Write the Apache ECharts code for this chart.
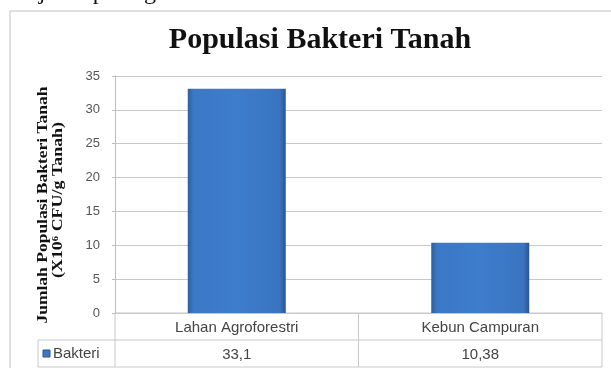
<!DOCTYPE html>
<html><head><meta charset="utf-8">
<script src="https://cdn.jsdelivr.net/npm/echarts@6/dist/echarts.min.js"></script>
<style>html,body{margin:0;padding:0;background:#fff}#c{width:611px;height:368px}</style>
</head><body><div id="c"></div>
<script>
const categories = ['Lahan Agroforestri', 'Kebun Campuran'];
const values = [33.1, 10.38];
const valueLabels = ['33,1', '10,38'];
const seriesName = 'Bakteri';
const yTicks = [0, 5, 10, 15, 20, 25, 30, 35];

const chart = echarts.init(document.getElementById('c'), null, {renderer: 'canvas'});
const G = {l: 115, r: 602, t: 76, b: 313};
function ln(x1, y1, x2, y2, c) {
  return {type: 'line', shape: {x1, y1, x2, y2}, style: {stroke: c || '#c8c8c8', lineWidth: 1}, silent: true};
}
const mid = (G.l + G.r) / 2;
chart.setOption({
  animation: false,
  backgroundColor: '#fff',
  title: {
    text: 'Populasi Bakteri Tanah', left: 315, top: 20, textAlign: 'center',
    textStyle: {fontFamily: 'Liberation Serif', fontWeight: 'bold', fontSize: 30, color: '#111'}
  },
  grid: {left: G.l, right: 611 - G.r, top: G.t, bottom: 368 - G.b},
  xAxis: [{
    type: 'category', data: categories, position: 'bottom',
    axisLine: {show: false}, axisTick: {show: false},
    axisLabel: {fontFamily: 'Liberation Sans', fontSize: 15, color: '#444', margin: 7}
  }, {
    type: 'category', data: valueLabels, position: 'bottom', offset: 27,
    axisLine: {show: false}, axisTick: {show: false},
    axisLabel: {fontFamily: 'Liberation Sans', fontSize: 15, color: '#444', margin: 7}
  }],
  yAxis: {
    type: 'value', min: 0, max: 35, interval: 5,
    axisLine: {show: true, lineStyle: {color: '#bdbdbd'}},
    axisTick: {show: true, length: 3, lineStyle: {color: '#bdbdbd'}},
    axisLabel: {fontFamily: 'Liberation Sans', fontSize: 13, color: '#555', margin: 15},
    splitLine: {lineStyle: {color: '#c8c8c8'}}
  },
  series: [{
    name: seriesName, type: 'bar', data: values, barWidth: 98, xAxisIndex: 0,
    itemStyle: {
      color: new echarts.graphic.LinearGradient(0, 0, 1, 0, [
        {offset: 0, color: '#2e5f9f'}, {offset: 0.06, color: '#3b78c6'},
        {offset: 0.5, color: '#3d7dcc'}, {offset: 0.94, color: '#3a74c0'}, {offset: 1, color: '#2a5590'}
      ])
    }
  }],
  graphic: [
    {type: 'rect', shape: {x: 10, y: 11, width: 620, height: 380}, style: {fill: 'none', stroke: '#c0c0c0', lineWidth: 1}, silent: true},
    {type: 'text', left: 0, top: -19, style: {text: 'disajikan pada gambar 3.', font: '24px "Liberation Serif"', fill: '#111'}},
    ln(G.l, G.b, G.r, G.b), ln(38, 340, G.r, 340), ln(38, 367, G.r, 367),
    ln(G.l, G.b, G.l, 367), ln(mid, G.b, mid, 367), ln(G.r, G.b, G.r, 367), ln(38, 340, 38, 367),
    {type: 'rect', shape: {x: 43, y: 350, width: 7, height: 7}, style: {fill: '#3b78c6', stroke: '#2a5590'}},
    {type: 'text', x: 53, y: 354, style: {text: seriesName, font: '15px "Liberation Sans"', fill: '#444', textVerticalAlign: 'middle'}},
    {type: 'text', x: 43, y: 205, rotation: Math.PI / 2, scaleX: 1.25,
      style: {text: 'Jumlah Populasi Bakteri Tanah', font: 'bold 14px "Liberation Serif"', fill: '#111', textAlign: 'center', textVerticalAlign: 'middle'}},
    {type: 'text', x: 58, y: 200, rotation: Math.PI / 2, scaleX: 1.28,
      style: {text: '(X10\u2076 CFU/g Tanah)', font: 'bold 14px "Liberation Serif"', fill: '#111', textAlign: 'center', textVerticalAlign: 'middle'}}
  ]
});
</script></body></html>
